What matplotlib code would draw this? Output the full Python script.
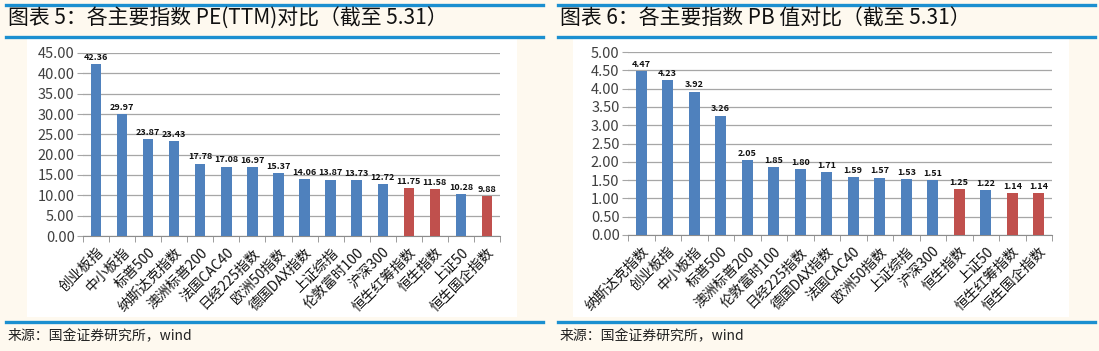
import matplotlib.pyplot as plt
from matplotlib.lines import Line2D
from matplotlib.patches import Rectangle
import numpy as np

plt.rcParams['font.family'] = ['Noto Sans CJK SC', 'DejaVu Sans']

# PE(TTM) panel
pe_names = ['创业板指', '中小板指', '标普500', '纳斯达克指数', '澳洲标普200', '法国CAC40',
            '日经225指数', '欧洲50指数', '德国DAX指数', '上证综指', '伦敦富时100', '沪深300',
            '恒生红筹指数', '恒生指数', '上证50', '恒生国企指数']
pe_values = [42.36, 29.97, 23.87, 23.43, 17.78, 17.08, 16.97, 15.37, 14.06, 13.87, 13.73,
             12.72, 11.75, 11.58, 10.28, 9.88]
pe_hk = ['恒生红筹指数', '恒生指数', '恒生国企指数']

# PB panel
pb_names = ['纳斯达克指数', '创业板指', '中小板指', '标普500', '澳洲标普200', '伦敦富时100',
            '日经225指数', '德国DAX指数', '法国CAC40', '欧洲50指数', '上证综指', '沪深300',
            '恒生指数', '上证50', '恒生红筹指数', '恒生国企指数']
pb_values = [4.47, 4.23, 3.92, 3.26, 2.05, 1.85, 1.80, 1.71, 1.59, 1.57, 1.53, 1.51,
             1.25, 1.22, 1.14, 1.14]
pb_hk = ['恒生指数', '恒生红筹指数', '恒生国企指数']

BLUE = '#4F81BD'
RED = '#C0504D'
LINE = '#1B8FD0'
BG = '#FEF9EF'

W, H = 1099, 351
fig = plt.figure(figsize=(W / 100, H / 100), dpi=100)
fig.patch.set_facecolor(BG)


def px(x0, y0, x1, y1):
    # pixel box (top-left origin) -> figure fraction
    return [x0 / W, 1 - y1 / H, (x1 - x0) / W, (y1 - y0) / H]


def hline(x0, x1, y, lw=2.4):
    fig.add_artist(Line2D([x0 / W, x1 / W], [1 - y / H, 1 - y / H], color=LINE, lw=lw,
                          transform=fig.transFigure))


def panel(left, title, names, values, hk, ymax, ystep, box, ax_box):
    right = left + 537
    hline(left, right, 5)
    hline(left, right, 37)
    hline(left, right, 322)
    fig.text((left + 2) / W, 1 - 19 / H, title, fontsize=15, fontstyle='italic',
             va='center', ha='left', color='#111111')
    fig.text((left + 2) / W, 1 - 336 / H, '来源：国金证券研究所，wind', fontsize=10,
             va='center', ha='left', color='#222222')
    bx = px(*box)
    fig.add_artist(Rectangle((bx[0], bx[1]), bx[2], bx[3], transform=fig.transFigure,
                             facecolor='white', edgecolor='none', zorder=0))

    ax = fig.add_axes(px(*ax_box))
    ax.set_facecolor('white')
    x = np.arange(len(names))
    colors = [RED if n in hk else BLUE for n in names]
    ax.bar(x, values, width=0.4, color=colors, zorder=3)
    for xi, v in zip(x, values):
        ax.text(xi, v + ymax * 0.012, f'{v:.2f}', ha='center', va='bottom',
                fontsize=6.5, fontweight='bold', color='#111111', zorder=4)
    ax.set_xlim(-0.5, len(names) - 0.5)
    ax.set_ylim(0, ymax)
    ticks = np.arange(0, ymax + ystep / 2, ystep)
    ax.set_yticks(ticks)
    ax.set_yticklabels([f'{t:.2f}' for t in ticks])
    ax.yaxis.grid(True, color='#A6A6A6', lw=0.9, zorder=0)
    ax.set_axisbelow(True)
    for s in ['left', 'right', 'top']:
        ax.spines[s].set_visible(False)
    ax.spines['bottom'].set_color('#8C8C8C')
    ax.tick_params(axis='y', length=4, color='#A6A6A6', labelsize=10.5,
                   labelcolor='#404040', pad=2)
    ax.set_xticks(x)
    ax.set_xticklabels(names, rotation=45, ha='right', rotation_mode='anchor',
                       fontsize=10, color='#111111')
    ax.tick_params(axis='x', which='major', length=0, pad=7)
    ax.set_xticks(np.arange(-0.5, len(names)), minor=True)
    ax.tick_params(axis='x', which='minor', length=4, color='#8C8C8C', direction='out')
    return ax


panel(6, '图表 5：各主要指数 PE(TTM)对比（截至 5.31）', pe_names, pe_values, pe_hk,
      45, 5, (27, 39, 517, 317), (83, 53, 500, 236))
panel(558, '图表 6：各主要指数 PB 值对比（截至 5.31）', pb_names, pb_values, pb_hk,
      5, 0.5, (573, 39, 1069, 317), (628, 52, 1052, 235))

fig.savefig('out.png', dpi=100, facecolor=BG)
